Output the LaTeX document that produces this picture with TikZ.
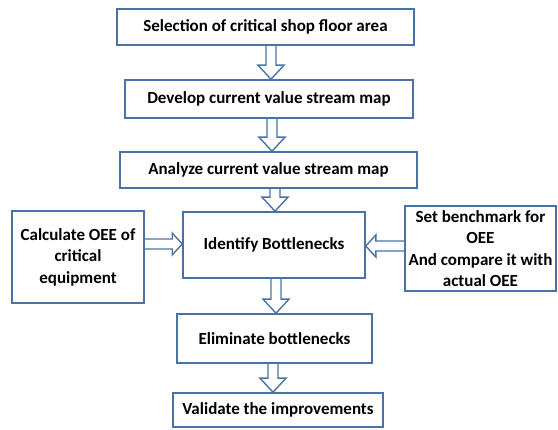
\documentclass[tikz,border=0pt]{standalone}
\usepackage{fontspec}
\setmainfont{Carlito}
\usetikzlibrary{calc,positioning}
\definecolor{flow-blue}{HTML}{4A72A6}

% Hohlpfeil senkrecht: von #1 nach #2 bei x = #3
\newcommand{\vflow}[3]{%
  \draw[flowarrow] let \p1=(#1.south), \p2=(#2.north) in
    (#3-5pt,\y1) -- (#3-5pt,\y2+14pt) -- (#3-13pt,\y2+14pt) -- (#3,\y2)
    -- (#3+13pt,\y2+14pt) -- (#3+5pt,\y2+14pt) -- (#3+5pt,\y1);}
% Hohlpfeil waagerecht: von #1 nach #2 bei y = #3
\newcommand{\hflow}[3]{%
  \draw[flowarrow] let \p1=(#1.east), \p2=(#2.west) in
    (\x1,#3+5pt) -- (\x2-10pt,#3+5pt) -- (\x2-10pt,#3+11pt) -- (\x2,#3)
    -- (\x2-10pt,#3-11pt) -- (\x2-10pt,#3-5pt) -- (\x1,#3-5pt);}
\newcommand{\hflowback}[3]{%
  \draw[flowarrow] let \p1=(#1.west), \p2=(#2.east) in
    (\x1,#3+5pt) -- (\x2+10pt,#3+5pt) -- (\x2+10pt,#3+11pt) -- (\x2,#3)
    -- (\x2+10pt,#3-11pt) -- (\x2+10pt,#3-5pt) -- (\x1,#3-5pt);}

\begin{document}
\begin{tikzpicture}[x=1pt,y=-1pt,
  stepbox/.style={draw=flow-blue,line width=1.6pt,fill=white,inner sep=0pt,
    align=center,font=\fontsize{17}{21.5}\selectfont\bfseries},
  flowarrow/.style={draw=flow-blue,line width=1.4pt,line join=miter}]
  \useasboundingbox (0,0) rectangle (558,430);

  % Hauptkette
  \node[stepbox,minimum width=297pt,minimum height=36pt] (select) at (265.5,27)
    {Selection of critical shop floor area};
  \node[stepbox,minimum width=288pt,minimum height=38pt] (develop) at (269,99)
    {Develop current value stream map};
  \node[stepbox,minimum width=297pt,minimum height=36pt] (analyze) at (268.5,170)
    {Analyze current value stream map};
  \node[stepbox,minimum width=182pt,minimum height=66pt] (identify) at (274,245)
    {Identify Bottlenecks};
  \node[stepbox,minimum width=195pt,minimum height=49pt] (eliminate) at (274.5,338.5)
    {Eliminate bottlenecks};
  \node[stepbox,minimum width=210pt,minimum height=34pt] (validate) at (278,410)
    {Validate the improvements};

  % Seitenkaesten
  \node[stepbox,minimum width=132pt,minimum height=92pt] (calcoee) at (78,257)
    {Calculate OEE of\\critical\\equipment};
  \node[stepbox,minimum width=151pt,minimum height=85pt] (bench) at (480.5,248.5)
    {Set benchmark for\\OEE\\And compare it with\\actual OEE};

  % Pfeile
  \vflow{select}{develop}{271pt}
  \vflow{develop}{analyze}{272pt}
  \vflow{analyze}{identify}{275pt}
  \vflow{identify}{eliminate}{276pt}
  \vflow{eliminate}{validate}{273pt}
  \hflow{calcoee}{identify}{-244pt}
  \hflowback{bench}{identify}{-246pt}
\end{tikzpicture}
\end{document}
